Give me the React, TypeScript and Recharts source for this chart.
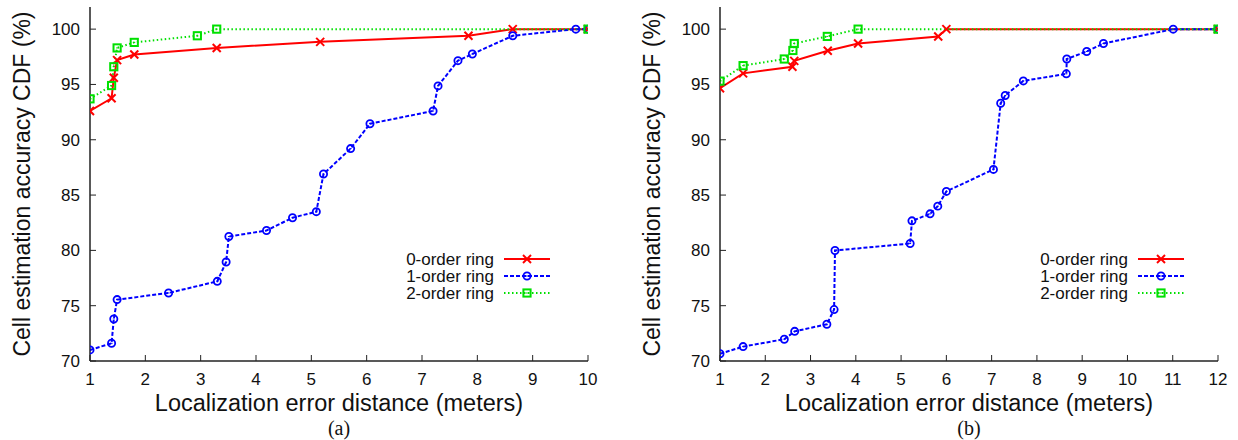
import { LineChart, Line, XAxis, YAxis } from "recharts";

// y axis is shared by both panels
const Y_TICKS = [70, 75, 80, 85, 90, 95, 100];
const Y_DOMAIN = [70, 102];

const SERIES_NAMES = ["0-order ring", "1-order ring", "2-order ring"];
const COLORS = ["#ff0000", "#0000ff", "#00e000"];

// panel (a)
const X_TICKS_A = [1, 2, 3, 4, 5, 6, 7, 8, 9, 10];
const RED_A_X = [1, 1.39, 1.43, 1.49, 1.8, 3.29, 5.16, 7.84, 8.64, 10];
const RED_A_Y = [92.6, 93.75, 95.6, 97.2, 97.7, 98.3, 98.85, 99.4, 100, 100];
const BLUE_A_X = [1, 1.39, 1.43, 1.49, 2.42, 3.3, 3.46, 3.51, 4.19, 4.66, 5.09, 5.22, 5.71, 6.06, 7.2, 7.29, 7.65, 7.91, 8.64, 9.78, 10];
const BLUE_A_Y = [71.0, 71.6, 73.8, 75.55, 76.15, 77.2, 78.95, 81.25, 81.8, 82.95, 83.5, 86.9, 89.2, 91.45, 92.6, 94.87, 97.15, 97.75, 99.4, 100, 100];
const GREEN_A_X = [1, 1.39, 1.43, 1.49, 1.8, 2.94, 3.29, 10];
const GREEN_A_Y = [93.7, 94.9, 96.6, 98.3, 98.8, 99.4, 100, 100];

// panel (b)
const X_TICKS_B = [1, 2, 3, 4, 5, 6, 7, 8, 9, 10, 11, 12];
const RED_B_X = [1, 1.51, 2.6, 2.64, 3.38, 4.05, 5.82, 6.0, 12];
const RED_B_Y = [94.66, 96.0, 96.6, 97.13, 98.04, 98.7, 99.34, 100, 100];
const BLUE_B_X = [1, 1.51, 2.42, 2.65, 3.36, 3.52, 3.54, 5.2, 5.24, 5.64, 5.81, 6.0, 7.04, 7.2, 7.3, 7.7, 8.65, 8.66, 9.1, 9.47, 11.01, 12];
const BLUE_B_Y = [70.66, 71.3, 71.97, 72.68, 73.32, 74.65, 79.99, 80.62, 82.67, 83.3, 84.0, 85.33, 87.32, 93.3, 94.0, 95.32, 95.96, 97.3, 97.98, 98.7, 100, 100];
const GREEN_B_X = [1, 1.51, 2.42, 2.61, 2.64, 3.37, 4.05, 12];
const GREEN_B_Y = [95.3, 96.7, 97.3, 98.07, 98.7, 99.34, 100, 100];

const zip = (xs: number[], ys: number[]) => xs.map((x, i) => ({ x, y: ys[i] }));

const SANS = "'Liberation Sans', Arial, sans-serif";
const W = 620;
const H = 440;

// gnuplot style point markers
function Marker({ kind, cx, cy }: { kind: number; cx: number; cy: number }) {
  const c = COLORS[kind];
  if (kind === 0) {
    return (
      <g stroke={c} strokeWidth={2}>
        <line x1={cx - 4} y1={cy - 4} x2={cx + 4} y2={cy + 4} />
        <line x1={cx - 4} y1={cy + 4} x2={cx + 4} y2={cy - 4} />
      </g>
    );
  }
  if (kind === 1) {
    return (
      <g>
        <circle cx={cx} cy={cy} r={3.6} fill="none" stroke={c} strokeWidth={1.8} />
        <line x1={cx - 1} y1={cy} x2={cx + 1} y2={cy} stroke={c} strokeWidth={1} />
      </g>
    );
  }
  return (
    <g>
      <rect x={cx - 3.6} y={cy - 3.6} width={7.2} height={7.2} fill="none" stroke={c} strokeWidth={2} />
      <line x1={cx - 1} y1={cy} x2={cx + 1} y2={cy} stroke={c} strokeWidth={1} />
    </g>
  );
}

const DASHES = [undefined, "4 2", "1.5 2.5"];

const noTick = () => <g />;

type PanelProps = {
  left: number;
  plotLeft: number;
  plotRight: number;
  xTicks: number[];
  xMax: number;
  series: { x: number; y: number }[][];
  caption: string;
  legendRight: number;
};

function Panel({ left, plotLeft, plotRight, xTicks, xMax, series, caption, legendRight }: PanelProps) {
  const mid = (plotLeft + plotRight) / 2;
  const textRight = plotRight - legendRight;
  return (
    <div style={{ position: "absolute", left, top: 0, width: W, height: H }}>
      <LineChart
        width={W}
        height={H}
        margin={{ top: 7, right: W - plotRight, left: plotLeft - 60, bottom: 49 }}
      >
        <XAxis
          dataKey="x"
          type="number"
          domain={[1, xMax]}
          ticks={xTicks}
          height={30}
          tickSize={-6}
          tickMargin={18}
          axisLine={{ stroke: "#222", strokeWidth: 1.5 }}
          tickLine={{ stroke: "#222" }}
          tick={{ fontSize: 17, fill: "#111", fontFamily: SANS }}
          allowDataOverflow
        />
        <XAxis
          xAxisId="top"
          orientation="top"
          type="number"
          domain={[1, xMax]}
          ticks={xTicks}
          height={0}
          tickSize={-6}
          axisLine={{ stroke: "#222", strokeWidth: 1.5 }}
          tickLine={{ stroke: "#222" }}
          tick={noTick}
        />
        <YAxis
          dataKey="y"
          type="number"
          domain={Y_DOMAIN}
          ticks={Y_TICKS}
          width={60}
          tickSize={-6}
          tickMargin={16}
          axisLine={{ stroke: "#222", strokeWidth: 1.5 }}
          tickLine={{ stroke: "#222" }}
          tick={{ fontSize: 17, fill: "#111", fontFamily: SANS }}
          allowDataOverflow
        />
        <YAxis
          yAxisId="right"
          orientation="right"
          type="number"
          domain={Y_DOMAIN}
          ticks={Y_TICKS}
          width={0}
          tickSize={-6}
          axisLine={{ stroke: "#222", strokeWidth: 1.5 }}
          tickLine={{ stroke: "#222" }}
          tick={noTick}
        />
        {series.map((d, k) => (
          <Line
            key={SERIES_NAMES[k]}
            data={d}
            dataKey="y"
            type="linear"
            stroke={COLORS[k]}
            strokeWidth={2}
            strokeDasharray={DASHES[k]}
            isAnimationActive={false}
            dot={(p: any) => <Marker key={`${k}-${p.index}`} kind={k} cx={p.cx} cy={p.cy} />}
            activeDot={false}
          />
        ))}
      </LineChart>

      <div
        style={{
          position: "absolute",
          left: plotLeft - 68,
          top: 184,
          transform: "translate(-50%, -50%) rotate(-90deg)",
          whiteSpace: "nowrap",
          fontFamily: SANS,
          fontSize: 23,
          lineHeight: 1,
          color: "#111",
        }}
      >
        Cell estimation accuracy CDF (%)
      </div>
      <div
        style={{
          position: "absolute",
          left: mid,
          top: 404,
          transform: "translate(-50%, -50%)",
          whiteSpace: "nowrap",
          fontFamily: SANS,
          fontSize: 23.5,
          lineHeight: 1,
          color: "#111",
        }}
      >
        Localization error distance (meters)
      </div>
      <div
        style={{
          position: "absolute",
          left: mid,
          top: 428,
          transform: "translate(-50%, -50%)",
          fontFamily: "'Liberation Serif', serif",
          fontSize: 20,
          lineHeight: 1,
          color: "#111",
        }}
      >
        {caption}
      </div>

      {/* legend, gnuplot style: label on the left, sample on the right */}
      <svg style={{ position: "absolute", left: 0, top: 0 }} width={W} height={H}>
        {SERIES_NAMES.map((name, k) => {
          const y = 259 + k * 17;
          return (
            <g key={name}>
              <text
                x={textRight}
                y={y}
                textAnchor="end"
                dominantBaseline="central"
                fontFamily={SANS}
                fontSize={17}
                fill="#111"
              >
                {name}
              </text>
              <line
                x1={textRight + 10}
                y1={y}
                x2={textRight + 56}
                y2={y}
                stroke={COLORS[k]}
                strokeWidth={2}
                strokeDasharray={DASHES[k]}
              />
              <Marker kind={k} cx={textRight + 33} cy={y} />
            </g>
          );
        })}
      </svg>
    </div>
  );
}

export default function App() {
  return (
    <div style={{ position: "absolute", left: 0, top: 0, width: 1238, height: 440, background: "#fff" }}>
      <Panel
        left={0}
        plotLeft={90}
        plotRight={588}
        xTicks={X_TICKS_A}
        xMax={10}
        series={[zip(RED_A_X, RED_A_Y), zip(BLUE_A_X, BLUE_A_Y), zip(GREEN_A_X, GREEN_A_Y)]}
        caption="(a)"
        legendRight={94}
      />
      <Panel
        left={618}
        plotLeft={102}
        plotRight={600}
        xTicks={X_TICKS_B}
        xMax={12}
        series={[zip(RED_B_X, RED_B_Y), zip(BLUE_B_X, BLUE_B_Y), zip(GREEN_B_X, GREEN_B_Y)]}
        caption="(b)"
        legendRight={90}
      />
    </div>
  );
}
